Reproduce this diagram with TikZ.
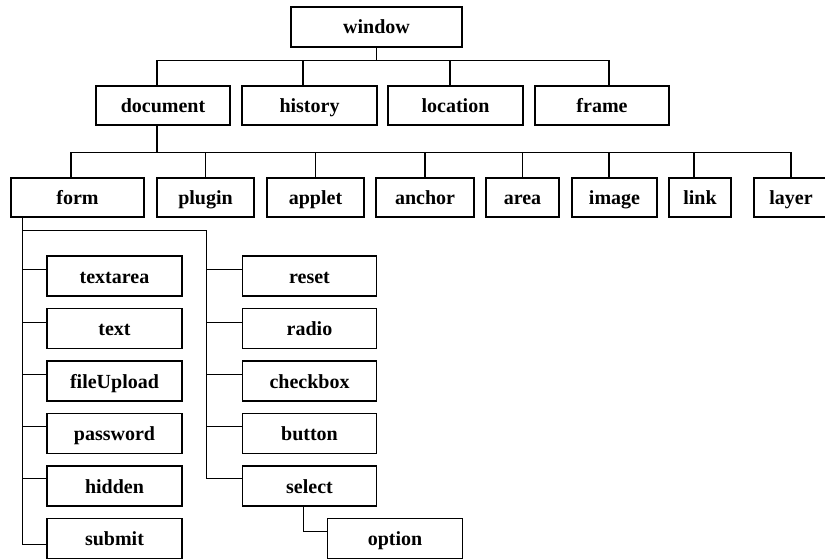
\documentclass[tikz,border=0pt]{standalone}
\usepackage{fontspec}
\setmainfont{Liberation Serif}
\begin{document}
\begin{tikzpicture}[x=1pt,y=-1pt,
  bx/.style={draw=black,line width=1.1pt,inner sep=0pt,minimum height=40pt,
    text height=15pt,text depth=1pt,
    font=\fontsize{20}{24}\selectfont\bfseries},
  ln/.style={draw=black,line width=1.1pt}]
\clip (0,0) rectangle (825,559);
\fill[white] (0,0) rectangle (825,559);
% level 1
\node[bx,minimum width=171pt] (window) at (376.5,27) {window};
% level 2
\node[bx,minimum width=134pt,minimum height=39pt] (document) at (163,105.5) {document};
\node[bx,minimum width=135pt,minimum height=39pt] (history) at (309.5,105.5) {history};
\node[bx,minimum width=135pt,minimum height=39pt] (location) at (455.5,105.5) {location};
\node[bx,minimum width=134pt,minimum height=39pt] (frame) at (602,105.5) {frame};
% level 3
\node[bx,minimum width=133pt,minimum height=39pt] (form) at (77.5,197.5) {form};
\node[bx,minimum width=97pt,minimum height=39pt] (plugin) at (205.5,197.5) {plugin};
\node[bx,minimum width=97pt,minimum height=39pt] (applet) at (315.5,197.5) {applet};
\node[bx,minimum width=98pt,minimum height=39pt] (anchor) at (425,197.5) {anchor};
\node[bx,minimum width=73pt,minimum height=39pt] (area) at (522.5,197.5) {area};
\node[bx,minimum width=85pt,minimum height=39pt] (image) at (614.5,197.5) {image};
\node[bx,minimum width=62pt,minimum height=39pt] (link) at (700,197.5) {link};
\node[bx,minimum width=74pt,minimum height=39pt] (layer) at (791,197.5) {layer};
% form children, left column
\node[bx,minimum width=135pt] (textarea) at (114.5,276) {textarea};
\node[bx,minimum width=135pt] (text) at (114.5,328.5) {text};
\node[bx,minimum width=135pt] (fileUpload) at (114.5,381) {fileUpload};
\node[bx,minimum width=135pt] (password) at (114.5,433.3) {password};
\node[bx,minimum width=135pt] (hidden) at (114.5,486) {hidden};
\node[bx,minimum width=135pt] (submit) at (114.5,538.3) {submit};
% right column
\node[bx,minimum width=134.4pt] (reset) at (309.5,276) {reset};
\node[bx,minimum width=134.4pt] (radio) at (309.5,328.5) {radio};
\node[bx,minimum width=134.4pt] (checkbox) at (309.5,381) {checkbox};
\node[bx,minimum width=134.4pt] (button) at (309.5,433.3) {button};
\node[bx,minimum width=134.4pt] (select) at (309.5,486) {select};
\node[bx,minimum width=134.6pt] (option) at (395,538.3) {option};
% window -> level 2
\coordinate (wb) at ([yshift=-13pt]window.south);
\draw[ln] (window.south) -- (wb);
\draw[ln] ([xshift=-6pt]document.north) |- (wb);
\draw[ln] ([xshift=7pt]frame.north) |- (wb);
\draw[ln] ([xshift=-6.5pt]history.north) -- ([xshift=-6.5pt]history.north |- wb);
\draw[ln] ([xshift=-5.5pt]location.north) -- ([xshift=-5.5pt]location.north |- wb);
% document -> level 3
\coordinate (db) at ([xshift=-6pt,yshift=-27pt]document.south);
\draw[ln] ([xshift=-6pt]document.south) -- (db);
\draw[ln] ([xshift=-6.5pt]form.north) |- (db);
\draw[ln] (layer.north) |- (db);
\draw[ln] (plugin.north) -- (plugin.north |- db);
\draw[ln] (applet.north) -- (applet.north |- db);
\draw[ln] (anchor.north) -- (anchor.north |- db);
\draw[ln] (area.north) -- (area.north |- db);
\draw[ln] ([xshift=-5.5pt]image.north) -- ([xshift=-5.5pt]image.north |- db);
\draw[ln] ([xshift=-6pt]link.north) -- ([xshift=-6pt]link.north |- db);
% form -> children
\coordinate (fb) at ([xshift=-55pt,yshift=-13pt]form.south);
\draw[ln] ([xshift=-55pt]form.south) |- ([yshift=-6.3pt]submit.west);
\foreach \n/\s in {textarea/6.7,text/6.2,fileUpload/6.7,password/6.6,hidden/7.7}{
  \coordinate (c\n) at ([yshift=\s pt]\n.west);
  \draw[ln] (c\n) -- (c\n -| fb);
}
\coordinate (se) at ([yshift=7.3pt]select.west);
\coordinate (rv) at ([xshift=-35.6pt]se);
\draw[ln] (fb) -| (rv) -- (se);
\foreach \n/\s in {reset/6.7,radio/6.2,checkbox/6.7,button/6.6}{
  \coordinate (c\n) at ([yshift=\s pt]\n.west);
  \draw[ln] (c\n) -- (c\n -| rv);
}
\draw[ln] ([xshift=-6.2pt]select.south) |- ([yshift=6.6pt]option.west);
\end{tikzpicture}
\end{document}
